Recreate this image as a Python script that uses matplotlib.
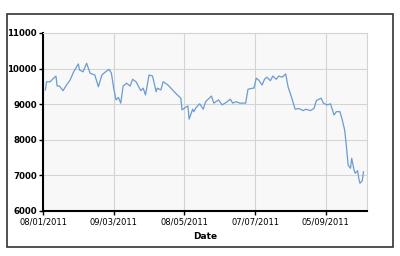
import matplotlib
matplotlib.use("Agg")
import matplotlib.pyplot as plt
import matplotlib.dates as mdates
from matplotlib.patches import Rectangle
import pandas as pd

# daily closing values (dates are day/month/year on the axis)
dates = ["2011-01-10", "2011-01-11", "2011-01-14", "2011-01-17", "2011-01-19", "2011-01-20",
         "2011-01-22", "2011-01-25", "2011-01-28", "2011-01-31", "2011-02-03", "2011-02-07",
         "2011-02-08", "2011-02-11", "2011-02-14", "2011-02-17", "2011-02-21", "2011-02-24",
         "2011-02-27", "2011-03-01", "2011-03-05", "2011-03-07", "2011-03-09", "2011-03-11",
         "2011-03-13", "2011-03-15", "2011-03-17", "2011-03-20", "2011-03-23", "2011-03-25",
         "2011-03-28", "2011-04-01", "2011-04-03", "2011-04-05", "2011-04-08", "2011-04-11",
         "2011-04-14", "2011-04-15", "2011-04-18", "2011-04-20", "2011-04-24", "2011-04-28",
         "2011-05-02", "2011-05-05", "2011-05-06", "2011-05-09", "2011-05-11", "2011-05-12",
         "2011-05-15", "2011-05-16", "2011-05-18", "2011-05-21", "2011-05-24", "2011-05-26",
         "2011-05-31", "2011-06-02", "2011-06-06", "2011-06-09", "2011-06-12", "2011-06-16",
         "2011-06-18", "2011-06-21", "2011-06-24", "2011-06-29", "2011-07-01", "2011-07-05",
         "2011-07-06", "2011-07-08", "2011-07-10", "2011-07-13", "2011-07-15", "2011-07-17",
         "2011-07-20", "2011-07-22", "2011-07-25", "2011-07-27", "2011-07-30", "2011-08-02",
         "2011-08-04", "2011-08-07", "2011-08-10", "2011-08-13", "2011-08-17", "2011-08-19",
         "2011-08-23", "2011-08-26", "2011-08-28", "2011-09-01", "2011-09-03", "2011-09-06",
         "2011-09-09", "2011-09-12", "2011-09-14", "2011-09-17", "2011-09-19", "2011-09-21",
         "2011-09-22", "2011-09-24", "2011-09-26", "2011-09-27", "2011-09-29", "2011-09-30",
         "2011-10-02", "2011-10-03", "2011-10-04", "2011-10-06", "2011-10-07"]
values = [9400, 9630, 9630, 9730, 9790, 9510,
          9510, 9380, 9540, 9680, 9910, 10130,
          9960, 9910, 10150, 9870, 9820, 9490,
          9820, 9880, 9980, 9880, 9450, 9120,
          9190, 9030, 9510, 9590, 9510, 9700,
          9630, 9380, 9450, 9260, 9820, 9790,
          9350, 9450, 9400, 9630, 9540, 9400,
          9260, 9170, 8840, 8910, 8950, 8580,
          8860, 8790, 8910, 9010, 8860, 9070,
          9230, 9030, 9120, 8980, 9040, 9140,
          9030, 9070, 9030, 9030, 9420, 9450,
          9450, 9730, 9680, 9540, 9700, 9760,
          9660, 9790, 9700, 9790, 9760, 9850,
          9490, 9190, 8860, 8880, 8820, 8860,
          8820, 8880, 9100, 9170, 9030, 8980,
          9010, 8700, 8790, 8790, 8560, 8280,
          7990, 7290, 7200, 7480, 7150, 7060,
          7130, 6920, 6780, 6850, 7100]
tick_dates = ["2011-01-08", "2011-03-09", "2011-05-08", "2011-07-07", "2011-09-05"]
y_ticks = [6000, 7000, 8000, 9000, 10000, 11000]

x = pd.to_datetime(dates)
xt = pd.to_datetime(tick_dates)

fig = plt.figure(figsize=(4, 2.56), dpi=100)
fig.patches.append(Rectangle((7 / 400, 1 - 247 / 256), 386 / 400, 233 / 256,
                             transform=fig.transFigure, fill=False,
                             edgecolor="#333333", linewidth=1.2))

ax = fig.add_axes([43 / 400, 1 - 211 / 256, 324 / 400, 178 / 256])
ax.set_facecolor("#f8f8f8")
ax.plot(x, values, color="#6b9bd2", linewidth=0.9)

ax.set_xlim(xt[0], pd.Timestamp("2011-10-10"))
ax.set_ylim(6000, 11000)
ax.set_xticks(xt)
ax.xaxis.set_major_formatter(mdates.DateFormatter("%d/%m/%Y"))
ax.set_yticks(y_ticks)

ax.grid(True, color="#d4d4d4", linewidth=0.8)
ax.set_axisbelow(True)
for s in ["top", "right"]:
    ax.spines[s].set_color("#d4d4d4")
    ax.spines[s].set_linewidth(0.8)
for s in ["left", "bottom"]:
    ax.spines[s].set_color("black")
    ax.spines[s].set_linewidth(1.5)

ax.tick_params(axis="x", length=3, width=1, pad=1.5, labelsize=6)
ax.tick_params(axis="y", length=3, width=1, pad=1.5, labelsize=6.2)
for lab in ax.get_yticklabels():
    lab.set_fontweight("bold")

ax.set_xlabel("Date", fontsize=6.5, fontweight="bold", labelpad=4)

fig.savefig("out.png", dpi=100)
